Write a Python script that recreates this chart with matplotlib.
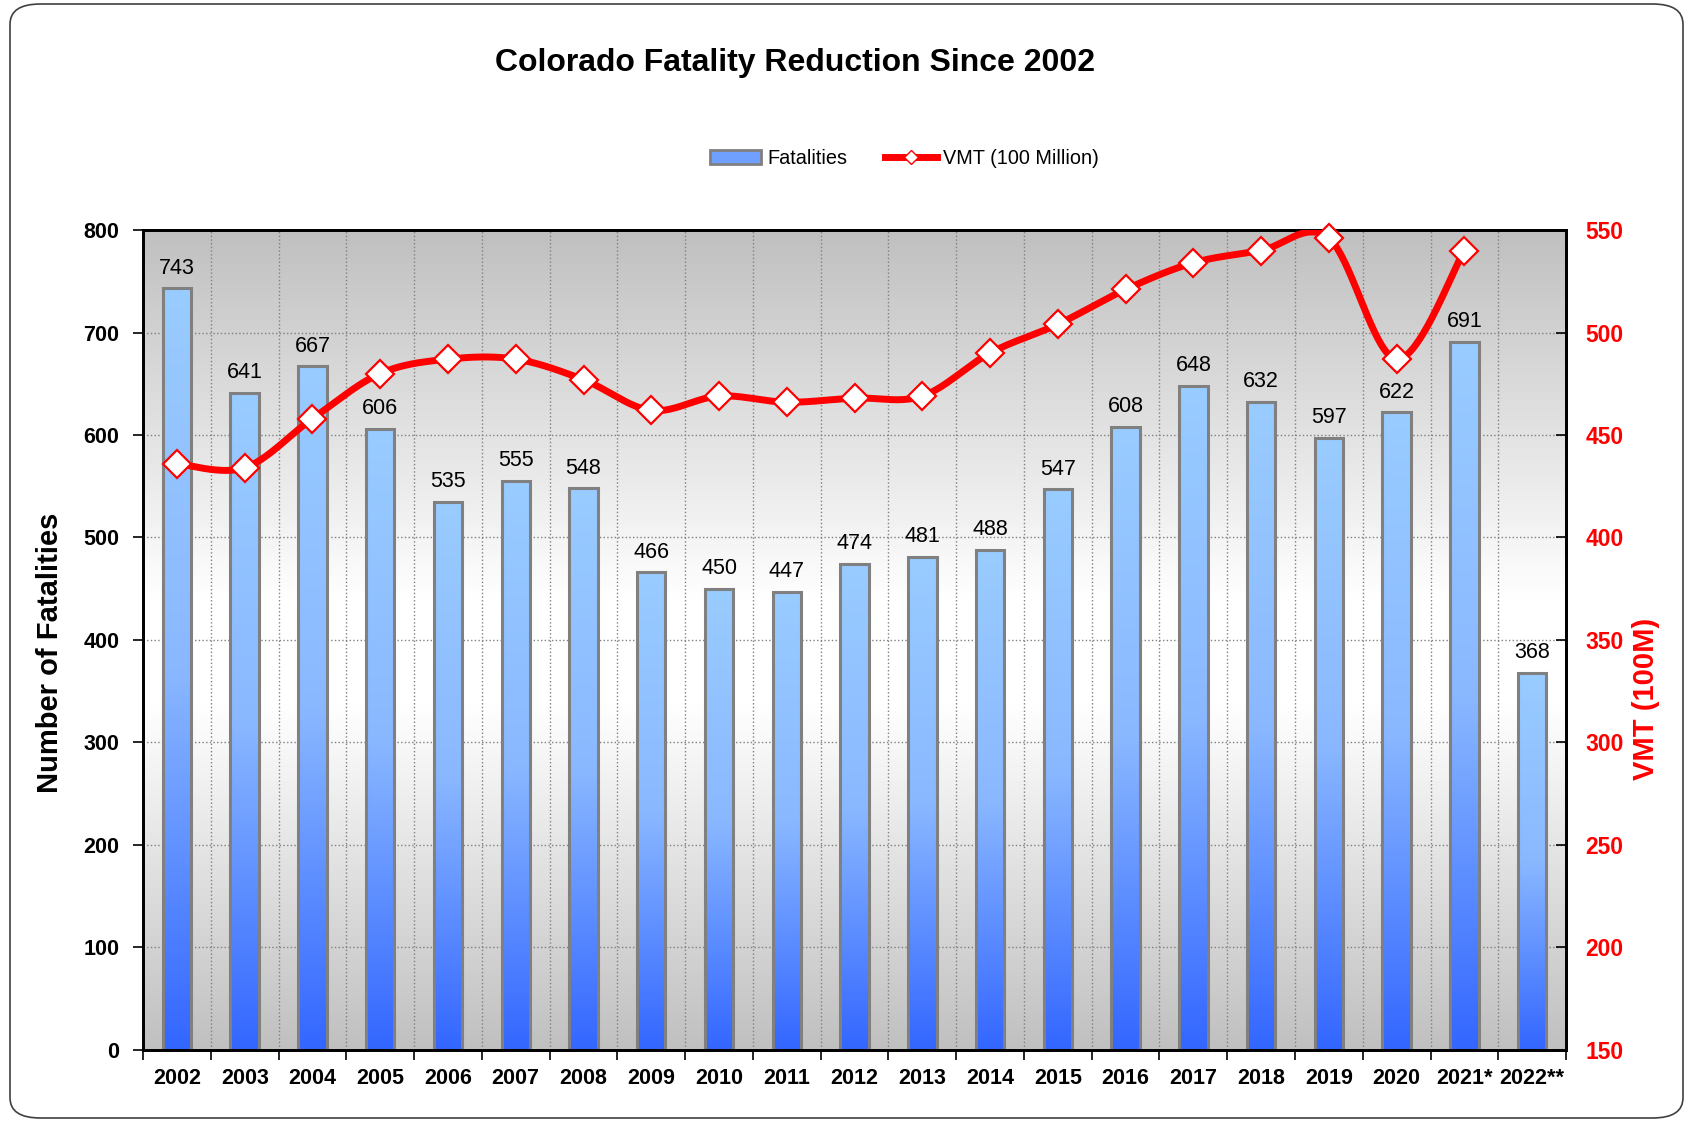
import matplotlib.pyplot as plt
import numpy as np
from matplotlib.colors import LinearSegmentedColormap
from matplotlib.lines import Line2D
from matplotlib.patches import Patch, FancyBboxPatch

plt.rcParams['font.family'] = ['Liberation Sans', 'DejaVu Sans']

# data
years = ['2002', '2003', '2004', '2005', '2006', '2007', '2008', '2009', '2010', '2011',
         '2012', '2013', '2014', '2015', '2016', '2017', '2018', '2019', '2020', '2021*', '2022**']
fatalities = [743, 641, 667, 606, 535, 555, 548, 466, 450, 447, 474, 481, 488, 547, 608,
              648, 632, 597, 622, 691, 368]
vmt = [436, 434, 458, 480, 487, 487, 477, 462, 469, 466, 468, 469, 490, 504, 521, 534,
       540, 546, 487, 540]  # 100 million, no value for 2022


def smooth(xs, ys, n=40):
    # excel-like smoothed line (catmull-rom as bezier)
    p = np.column_stack([xs, ys]).astype(float)
    pts = np.vstack([p[0], p, p[-1]])
    out = []
    t = np.linspace(0, 1, n)[:, None]
    for i in range(1, len(pts) - 2):
        p0, p1, p2, p3 = pts[i - 1], pts[i], pts[i + 1], pts[i + 2]
        c1 = p1 + (p2 - p0) / 6
        c2 = p2 - (p3 - p1) / 6
        seg = ((1 - t) ** 3) * p1 + 3 * ((1 - t) ** 2) * t * c1 + 3 * (1 - t) * t ** 2 * c2 + t ** 3 * p2
        out.append(seg)
    out = np.vstack(out)
    return out[:, 0], out[:, 1]


fig = plt.figure(figsize=(16.87, 11.22), dpi=100)
ax = fig.add_axes([0.0848, 0.0642, 0.8435, 0.7308])
ax2 = ax.twinx()

x = np.arange(len(years))
w = 0.42

# background gradient gray -> white -> gray
bg_cmap = LinearSegmentedColormap.from_list(
    'bg', [(0, '#c0c0c0'), (0.45, '#ffffff'), (0.58, '#ffffff'), (1, '#c0c0c0')])
grad = np.linspace(0, 1, 256)[:, None]
ax.imshow(grad, cmap=bg_cmap, aspect='auto', extent=[-0.5, len(years) - 0.5, 0, 800],
          origin='upper', zorder=0)

# bars with vertical gradient
bar_cmap = LinearSegmentedColormap.from_list('bar', ['#99ccff', '#8ab8ff', '#3366ff'])
for xi, h in zip(x, fatalities):
    ax.imshow(grad, cmap=bar_cmap, aspect='auto', extent=[xi - w / 2, xi + w / 2, 0, h],
              origin='upper', zorder=1)
ax.bar(x, fatalities, width=w, facecolor='none', edgecolor='#808080', linewidth=2.2, zorder=2)

for xi, h in zip(x, fatalities):
    ax.annotate(str(h), (xi, h), xytext=(0, 7), textcoords='offset points',
                ha='center', va='bottom', fontsize=15.5, zorder=3)

ax.set_xlim(-0.5, len(years) - 0.5)
ax.set_ylim(0, 800)
ax.set_yticks(np.arange(0, 801, 100))
ax.set_xticks(x)
ax.set_xticklabels(years, fontsize=15.5, fontweight='bold')
ax.set_xticks(np.arange(-0.5, len(years), 1), minor=True)
ax.tick_params(axis='x', which='major', length=0, pad=13)
ax.tick_params(axis='x', which='minor', length=7, width=1.2, direction='out')
ax.tick_params(axis='y', labelsize=15.5, length=7, width=1.2, direction='out', pad=10)
for lab in ax.get_yticklabels():
    lab.set_fontweight('bold')
ax.set_axisbelow(True)
ax.grid(True, axis='y', which='major', linestyle=':', color='#808080', linewidth=1)
ax.grid(True, axis='x', which='minor', linestyle=':', color='#808080', linewidth=1)

# VMT line
sx, sy = smooth(x[:len(vmt)], vmt)
ax2.plot(sx, sy, color='#ff0000', linewidth=5, solid_capstyle='round', zorder=3)
ax2.plot(x[:len(vmt)], vmt, linestyle='none', marker='D', markersize=14,
         markerfacecolor='white', markeredgecolor='#ff0000', markeredgewidth=1.6,
         clip_on=False, zorder=4)
ax2.set_ylim(150, 550)
ax2.set_yticks(np.arange(150, 551, 50))
ax2.tick_params(axis='y', labelsize=16.5, labelcolor='#ff0000', length=7, width=1.2,
                direction='in', pad=14)
for lab in ax2.get_yticklabels():
    lab.set_fontweight('bold')

for a in (ax, ax2):
    for s in a.spines.values():
        s.set_linewidth(2)
        s.set_color('black')

fig.text(50 / 1687, 1 - 653 / 1122, 'Number of Fatalities', rotation=90, ha='center',
         va='center', fontsize=21, fontweight='bold')
fig.text(1646 / 1687, 1 - 699 / 1122, 'VMT (100M)', rotation=90, ha='center', va='center',
         fontsize=21, fontweight='bold', color='#ff0000')

fig.text(0.471, 0.944, 'Colorado Fatality Reduction Since 2002', ha='center', va='center',
         fontsize=23, fontweight='bold')

handles = [Patch(facecolor='#6f9fff', edgecolor='#808080', linewidth=2),
           Line2D([0], [0], color='#ff0000', linewidth=5, marker='D', markersize=7,
                  markerfacecolor='white', markeredgecolor='#ff0000')]
fig.legend(handles, ['Fatalities', 'VMT (100 Million)'], loc='center', ncol=2,
           bbox_to_anchor=(0.536, 0.859), frameon=False, fontsize=14.3,
           handlelength=2.6, handletextpad=0.3, columnspacing=1.9)

# rounded slide border
fig.patches.append(FancyBboxPatch((10 / 1687, 4 / 1122), 1673 / 1687, 1114 / 1122,
                                  boxstyle='round,pad=0,rounding_size=0.018',
                                  transform=fig.transFigure, facecolor='none',
                                  edgecolor='#404040', linewidth=1.2))

fig.savefig('out.png', dpi=100)
